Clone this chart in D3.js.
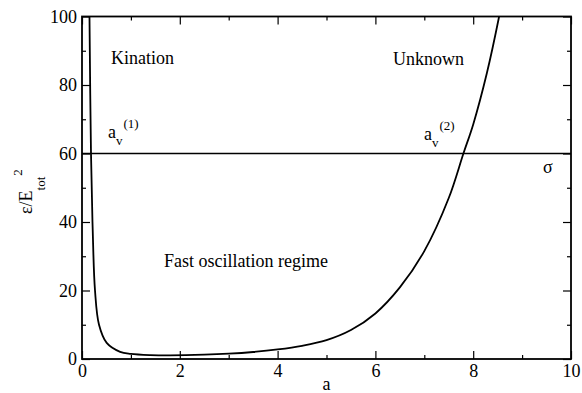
<!DOCTYPE html>
<html>
<head>
<meta charset="utf-8">
<script src="https://cdn.jsdelivr.net/npm/d3@7"></script>
<style>
  html, body { margin: 0; padding: 0; background: #fff; }
  svg { display: block; }
  svg text { font-family: "Liberation Serif", "Times New Roman", Times, serif; }
</style>
</head>
<body>
<svg id="chart" width="582" height="393"></svg>
<script>
// Energy ratio curve against scale factor a
const aValues = [0.153, 0.184, 0.219, 0.266, 0.348, 0.505, 0.78, 1.0, 1.4, 1.8, 2.5, 3.0, 3.5, 4.0, 4.5, 5.0, 5.5, 6.0, 6.5, 7.0, 7.5, 7.8, 8.0, 8.28, 8.53, 8.7];
const ratioValues = [100, 60, 37.7, 20, 10, 4.7, 2.1, 1.5, 1.15, 1.07, 1.25, 1.55, 2.05, 2.8, 3.86, 5.5, 8.45, 13.3, 20.9, 31.5, 47, 60, 68.5, 83.5, 100, 113];
const sigmaLevel = 60;
const xMajorTicks = [0, 2, 4, 6, 8, 10];
const xMinorTicks = [1, 3, 5, 7, 9];
const yMajorTicks = [0, 20, 40, 60, 80, 100];
const yMinorTicks = [10, 30, 50, 70, 90];

const FONT = "'Liberation Serif', 'Times New Roman', Times, serif";
const svg = d3.select("#chart");
const plotL = 82, plotR = 571, plotT = 16.5, plotB = 359;

const x = d3.scaleLinear().domain([0, 10]).range([plotL, plotR]);
const y = d3.scaleLinear().domain([0, 100]).range([plotB, plotT]);

svg.append("defs").append("clipPath").attr("id", "plotClip")
  .append("rect").attr("x", plotL).attr("y", plotT)
  .attr("width", plotR - plotL).attr("height", plotB - plotT);

// Axes: ticks point inward, mirrored on top and right
const majorLen = 8, minorLen = 4;
function styleAxis(g) {
  g.attr("font-family", FONT);
  g.select(".domain").remove();
  g.selectAll("line").attr("stroke", "#000").attr("stroke-width", 1.2);
}
svg.append("g").attr("transform", `translate(0,${plotB})`)
  .call(d3.axisBottom(x).tickValues(xMajorTicks).tickSize(-majorLen).tickPadding(5).tickFormat(d3.format("d")))
  .call(styleAxis)
  .call(g => g.selectAll("text").attr("font-size", 18).attr("fill", "#000").attr("dy", "0.71em"));
svg.append("g").attr("transform", `translate(0,${plotB})`)
  .call(d3.axisBottom(x).tickValues(xMinorTicks).tickSize(-minorLen).tickFormat(""))
  .call(styleAxis);
svg.append("g").attr("transform", `translate(0,${plotT})`)
  .call(d3.axisTop(x).tickValues(xMajorTicks).tickSize(-majorLen).tickFormat(""))
  .call(styleAxis);
svg.append("g").attr("transform", `translate(0,${plotT})`)
  .call(d3.axisTop(x).tickValues(xMinorTicks).tickSize(-minorLen).tickFormat(""))
  .call(styleAxis);

svg.append("g").attr("transform", `translate(${plotL},0)`)
  .call(d3.axisLeft(y).tickValues(yMajorTicks).tickSize(-majorLen).tickPadding(5).tickFormat(d3.format("d")))
  .call(styleAxis)
  .call(g => g.selectAll("text").attr("font-size", 18).attr("fill", "#000"));
svg.append("g").attr("transform", `translate(${plotL},0)`)
  .call(d3.axisLeft(y).tickValues(yMinorTicks).tickSize(-minorLen).tickFormat(""))
  .call(styleAxis);
svg.append("g").attr("transform", `translate(${plotR},0)`)
  .call(d3.axisRight(y).tickValues(yMajorTicks).tickSize(-majorLen).tickFormat(""))
  .call(styleAxis);
svg.append("g").attr("transform", `translate(${plotR},0)`)
  .call(d3.axisRight(y).tickValues(yMinorTicks).tickSize(-minorLen).tickFormat(""))
  .call(styleAxis);

// Frame
svg.append("rect").attr("x", plotL).attr("y", plotT)
  .attr("width", plotR - plotL).attr("height", plotB - plotT)
  .attr("fill", "none").attr("stroke", "#000").attr("stroke-width", 1.8);

// Horizontal level sigma
svg.append("line")
  .attr("x1", x(0)).attr("x2", x(10))
  .attr("y1", y(sigmaLevel)).attr("y2", y(sigmaLevel))
  .attr("stroke", "#000").attr("stroke-width", 1.6);

// Curve
const pts = aValues.map((a, i) => [a, ratioValues[i]]);
const line = d3.line().x(d => x(d[0])).y(d => y(d[1])).curve(d3.curveCatmullRom.alpha(0.5));
svg.append("path").datum(pts)
  .attr("clip-path", "url(#plotClip)")
  .attr("d", line)
  .attr("fill", "none").attr("stroke", "#000").attr("stroke-width", 1.8);

// Region labels
const lbl = (tx, ty, str) => svg.append("text").attr("x", tx).attr("y", ty)
  .attr("font-family", FONT).attr("font-size", 18).attr("fill", "#000").text(str);
lbl(111, 64, "Kination");
lbl(393, 65, "Unknown");
lbl(164, 267, "Fast oscillation regime");
lbl(543, 173, "σ");

// a_v markers
function avLabel(tx, ty, sup) {
  const t = svg.append("text").attr("x", tx).attr("y", ty)
    .attr("font-family", FONT).attr("font-size", 18).attr("fill", "#000");
  t.append("tspan").text("a");
  t.append("tspan").attr("font-size", 13).attr("dy", 7).text("v");
  t.append("tspan").attr("font-size", 13).attr("dx", 1).attr("dy", -17).text(sup);
}
avLabel(108, 138, "(1)");
avLabel(424, 140, "(2)");

// Axis titles
svg.append("text").attr("x", x(5)).attr("y", 390)
  .attr("text-anchor", "middle").attr("font-family", FONT).attr("font-size", 18).attr("fill", "#000").text("a");

const yt = svg.append("text")
  .attr("transform", "translate(32,214) rotate(-90)")
  .attr("font-family", FONT).attr("font-size", 18).attr("fill", "#000");
yt.append("tspan").text("ε/E");
yt.append("tspan").attr("font-size", 13).attr("dy", 13).text("tot");
yt.append("tspan").attr("font-size", 13).attr("dx", 1).attr("dy", -23).text("2");
</script>
</body>
</html>
